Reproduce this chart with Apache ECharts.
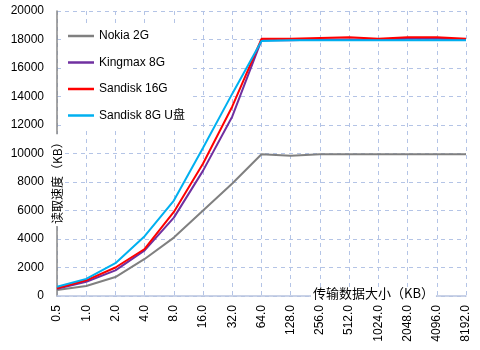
<!DOCTYPE html>
<html>
<head>
<meta charset="utf-8">
<script src="https://cdn.jsdelivr.net/npm/echarts@6/dist/echarts.min.js"></script>
<style>html,body{margin:0;padding:0;background:#fff}#c{width:480px;height:350px}</style>
</head>
<body>
<div id="c"></div>
<script>
var categories = ['0.5','1.0','2.0','4.0','8.0','16.0','32.0','64.0','128.0','256.0','512.0','1024.0','2048.0','4096.0','8192.0'];
var nokia2G   = [420, 700, 1330, 2600, 4100, 6000, 7900, 9950, 9850, 9950, 9950, 9950, 9950, 9950, 9950];
var kingmax8G = [500, 1000, 1800, 3200, 5500, 8800, 12600, 17950, 17950, 18000, 18000, 18000, 18050, 18050, 18000];
var sandisk16G = [550, 1100, 2000, 3300, 5900, 9300, 13300, 18050, 18050, 18100, 18150, 18050, 18150, 18150, 18050];
var sandisk8GU = [650, 1200, 2300, 4200, 6700, 10400, 14200, 17900, 17950, 17950, 17950, 17950, 17950, 17950, 17950];
var yTicks = [0, 2000, 4000, 6000, 8000, 10000, 12000, 14000, 16000, 18000, 20000];

var font = '"Liberation Sans", "Noto Sans CJK SC", sans-serif';
var chart = echarts.init(document.getElementById('c'));
function mk(name, data, color) {
  return { name: name, type: 'line', data: data, symbol: 'none', smooth: false,
    lineStyle: { color: color, width: 2 }, itemStyle: { color: color } };
}
chart.setOption({
  animation: false,
  backgroundColor: '#fff',
  grid: { left: 57, right: 14, top: 11, bottom: 54, containLabel: false },
  legend: {
    orient: 'vertical', left: 62, top: 24, itemWidth: 26, itemHeight: 14, itemGap: 14.5,
    backgroundColor: '#fff', padding: [6, 8, 8, 6],
    textStyle: { fontSize: 12, color: '#000', fontFamily: font },
    data: [
      { name: 'Nokia 2G', icon: 'path://M0,6h26v2.5h-26z' },
      { name: 'Kingmax 8G', icon: 'path://M0,6h26v2.5h-26z' },
      { name: 'Sandisk 16G', icon: 'path://M0,6h26v2.5h-26z' },
      { name: 'Sandisk 8G U盘', icon: 'path://M0,6h26v2.5h-26z' }
    ]
  },
  xAxis: {
    type: 'category', data: categories, boundaryGap: false,
    axisLine: { lineStyle: { color: '#b8c4e0', width: 1.5 } },
    axisTick: { show: false },
    axisLabel: { rotate: 90, fontSize: 12, color: '#000', fontFamily: font, margin: 9, interval: 0 },
    splitLine: { show: true, lineStyle: { color: '#b4c4e6', type: [4, 4], width: 1 } }
  },
  yAxis: {
    type: 'value', min: 0, max: 20000, interval: 2000,
    axisLine: { show: true, lineStyle: { color: '#888', width: 1.5 } },
    axisTick: { show: false },
    axisLabel: { fontSize: 12, color: '#000', fontFamily: font, margin: 13,
      formatter: function (v) { return yTicks.indexOf(v) >= 0 ? String(v) : ''; } },
    splitLine: { show: true, lineStyle: { color: '#b4c4e6', type: [4, 4], width: 1 } }
  },
  graphic: [
    { type: 'text', x: 50, y: 226, rotation: Math.PI / 2, z: 100,
      style: { text: '读取速度（KB）', fill: '#000', font: '12px "Noto Sans CJK SC", sans-serif',
        backgroundColor: '#fff', padding: [1, 2] } },
    { type: 'text', x: 311, y: 287, z: 100,
      style: { text: '传输数据大小（KB）', fill: '#000', font: '13px "Noto Sans CJK SC", sans-serif',
        backgroundColor: '#fff', padding: [0, 2] } }
  ],
  series: [
    mk('Nokia 2G', nokia2G, '#808080'),
    mk('Kingmax 8G', kingmax8G, '#7030a0'),
    mk('Sandisk 16G', sandisk16G, '#ff0000'),
    mk('Sandisk 8G U盘', sandisk8GU, '#00b0f0')
  ]
});
</script>
</body>
</html>
